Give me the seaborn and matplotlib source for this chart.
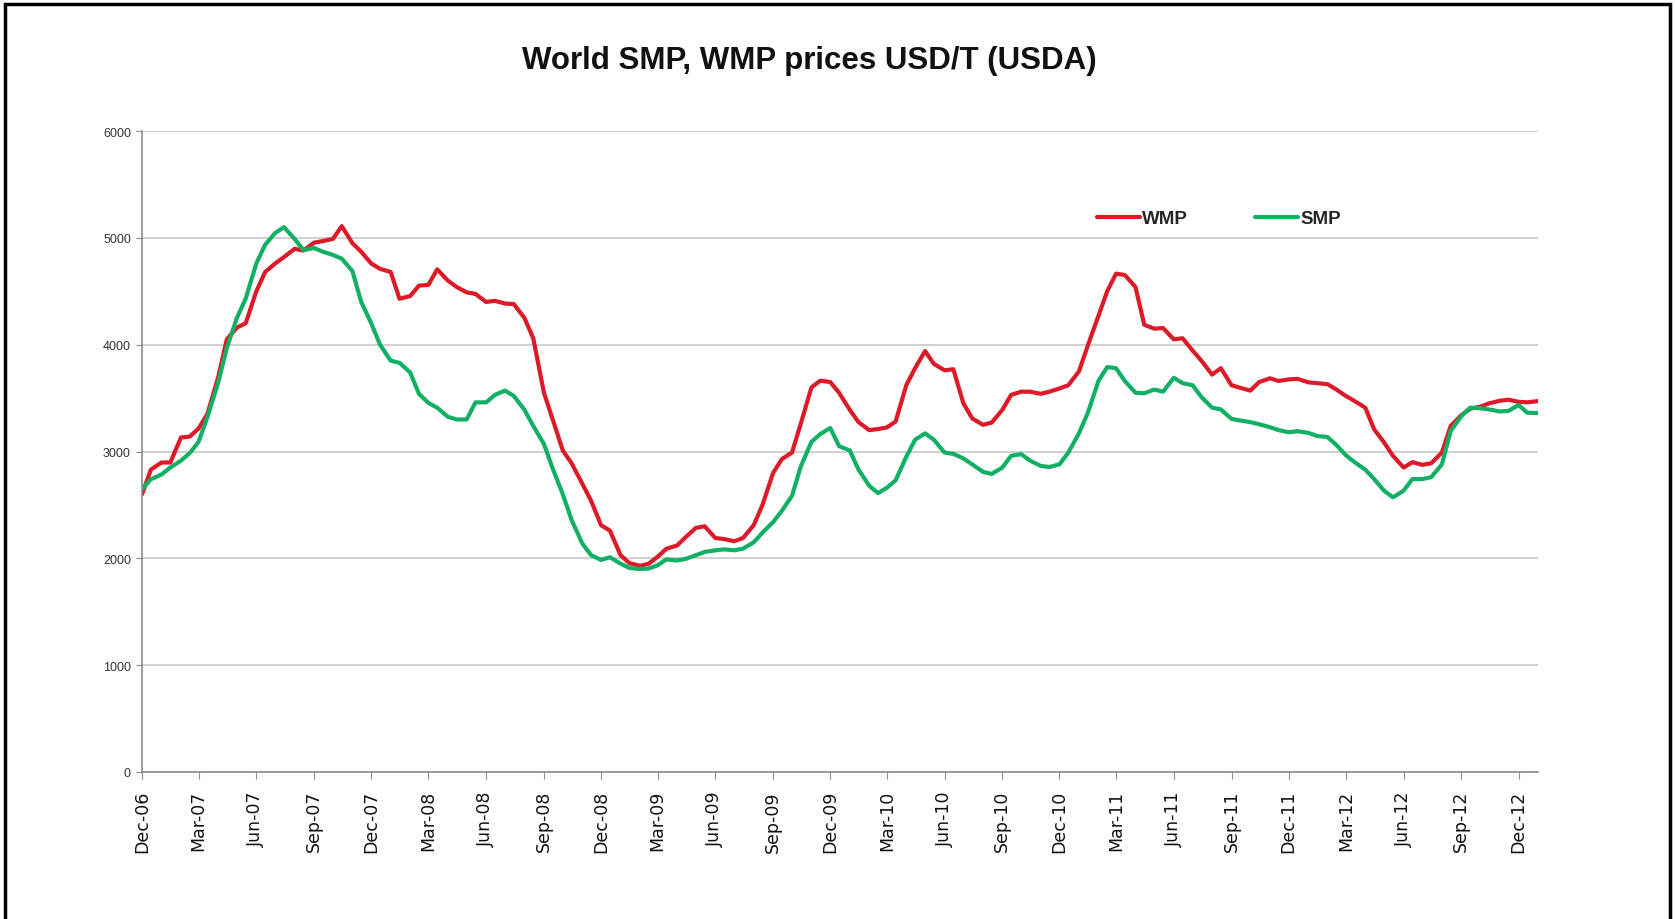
import matplotlib
matplotlib.use("Agg")
import matplotlib.dates as mdates
import matplotlib.pyplot as plt
import pandas as pd
import seaborn as sns
from matplotlib.lines import Line2D
from matplotlib.patches import Rectangle

TITLE = "World SMP, WMP prices USD/T (USDA)"

# semi-monthly quotes, 1 Dec 2006 .. 1 Jan 2013
DATES = pd.date_range("2006-12-01", "2013-01-01", freq="SMS")

WMP = [
    2600, 2830, 2897, 2897, 3131, 3140, 3215, 3350, 3690, 4050,
    4160, 4200, 4500, 4680, 4760, 4820, 4897, 4881, 4955, 4970,
    4990, 5110, 4950, 4870, 4760, 4710, 4680, 4430, 4455, 4553,
    4560, 4705, 4600, 4540, 4490, 4475, 4400, 4410, 4385, 4380,
    4250, 4060, 3550, 3300, 3010, 2890, 2700, 2540, 2310, 2260,
    2030, 1955, 1930, 1950, 2015, 2090, 2120, 2200, 2285, 2300,
    2190, 2180, 2160, 2190, 2310, 2500, 2800, 2930, 2990, 3260,
    3600, 3663, 3650, 3550, 3390, 3275, 3200, 3210, 3225, 3280,
    3620, 3780, 3940, 3820, 3760, 3770, 3450, 3310, 3250, 3270,
    3390, 3530, 3560, 3560, 3540, 3560, 3590, 3620, 3750, 3990,
    4270, 4500, 4665, 4652, 4540, 4186, 4150, 4155, 4050, 4060,
    3945, 3850, 3720, 3780, 3620, 3596, 3570, 3650, 3685, 3660,
    3675, 3680, 3648, 3640, 3630, 3580, 3520, 3472, 3410, 3208,
    3084, 2960, 2850, 2900, 2875, 2890, 2990, 3239, 3340, 3400,
    3420, 3450, 3475, 3485, 3465, 3460, 3472,
]

SMP = [
    2647, 2740, 2785, 2850, 2915, 2985, 3090, 3320, 3640, 3970,
    4250, 4430, 4760, 4935, 5045, 5100, 4990, 4885, 4905, 4870,
    4840, 4805, 4690, 4400, 4200, 4000, 3850, 3830, 3740, 3540,
    3455, 3410, 3325, 3300, 3300, 3460, 3460, 3530, 3570, 3520,
    3390, 3240, 3070, 2840, 2600, 2360, 2140, 2030, 1985, 2010,
    1950, 1910, 1900, 1905, 1935, 1990, 1980, 1995, 2030, 2060,
    2075, 2084, 2075, 2090, 2150, 2240, 2340, 2445, 2585, 2860,
    3090, 3163, 3220, 3050, 3010, 2830, 2680, 2610, 2660, 2730,
    2950, 3110, 3170, 3110, 2990, 2978, 2935, 2880, 2810, 2790,
    2850, 2960, 2975, 2915, 2865, 2855, 2880, 2990, 3170, 3360,
    3660, 3790, 3780, 3660, 3550, 3545, 3580, 3560, 3690, 3640,
    3620, 3510, 3410, 3394, 3305, 3290, 3275, 3255, 3228, 3200,
    3180, 3190, 3175, 3146, 3135, 3060, 2965, 2900, 2830, 2742,
    2633, 2571, 2633, 2742, 2742, 2760, 2880, 3192, 3332, 3410,
    3405, 3394, 3375, 3380, 3435, 3363, 3360,
]

SERIES = ["WMP", "SMP"]
COLORS = {"WMP": "#dc1a28", "SMP": "#12b064"}
TICK_DATES = pd.date_range("2006-12-01", "2012-12-01", freq="3MS")
Y_TICKS = [0, 1000, 2000, 3000, 4000, 5000, 6000]


def main() -> None:
    sns.set_style("white")
    plt.rcParams["font.family"] = ["DejaVu Sans"]
    narrow = ["Liberation Sans Narrow", "Liberation Sans", "DejaVu Sans"]

    df = pd.concat(
        [
            pd.DataFrame({"date": DATES, "price": WMP, "series": "WMP"}),
            pd.DataFrame({"date": DATES, "price": SMP, "series": "SMP"}),
        ],
        ignore_index=True,
    )

    fig = plt.figure(figsize=(16.75, 9.2), dpi=100)
    ax = fig.add_axes([0.0848, 0.1598, 0.8334, 0.6967])

    sns.lineplot(
        data=df, x="date", y="price", hue="series", hue_order=SERIES,
        palette=COLORS, linewidth=3, ax=ax, legend=False,
    )

    ax.set_xlim(DATES[0], DATES[-1])
    ax.set_ylim(0, 6000)
    ax.set_yticks(Y_TICKS)
    ax.set_xticks(TICK_DATES)
    ax.xaxis.set_major_formatter(mdates.DateFormatter("%b-%y"))
    ax.set_xlabel("")
    ax.set_ylabel("")

    ax.yaxis.grid(True, color="#c8c8c8", linewidth=1.2)
    ax.set_axisbelow(True)
    for side in ("top", "right"):
        ax.spines[side].set_visible(False)
    for side in ("left", "bottom"):
        ax.spines[side].set_color("#8c8c8c")
        ax.spines[side].set_linewidth(1.2)

    ax.tick_params(axis="x", bottom=True, length=5, color="#8c8c8c", pad=8,
                   labelsize=12.5, labelrotation=90, labelcolor="#111111")
    ax.tick_params(axis="y", left=True, length=4, color="#8c8c8c", pad=4,
                   labelsize=9, labelcolor="#333333")
    for label in ax.get_yticklabels():
        label.set_family(narrow)

    handles = [Line2D([], [], color=COLORS[s], linewidth=3) for s in SERIES]
    ax.legend(
        handles, SERIES, loc="center left", bbox_to_anchor=(0.672, 0.863),
        ncol=2, frameon=False, handlelength=2.3, handletextpad=0.1,
        columnspacing=3.6, prop={"family": narrow, "weight": "bold", "size": 13.5},
    )

    fig.text(0.483, 0.934, TITLE, ha="center", va="center", fontsize=22.5,
             fontweight="bold", family=narrow, color="#111111")

    fig.patches.append(Rectangle((0.003, -0.02), 0.994, 1.015, transform=fig.transFigure,
                                 fill=False, edgecolor="black", linewidth=2.5))

    fig.savefig("out.png", dpi=100)
    plt.close(fig)


if __name__ == "__main__":
    main()
